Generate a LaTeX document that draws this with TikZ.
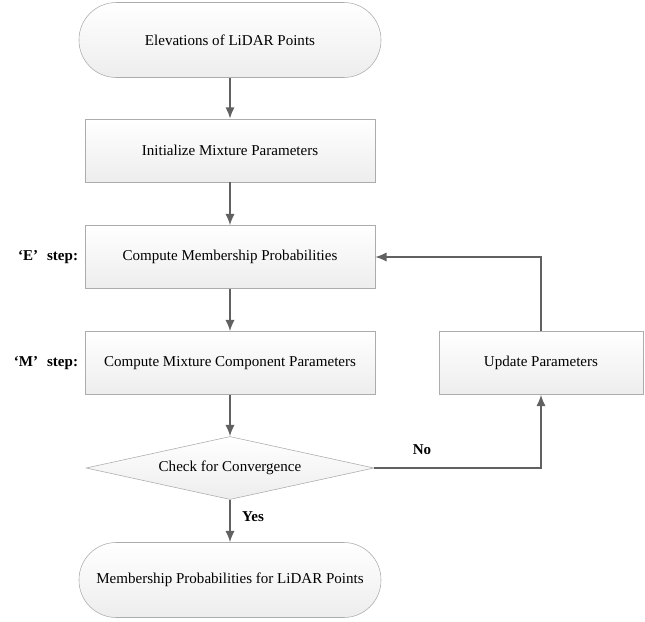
\documentclass[tikz,border=0pt]{standalone}
\usepackage{fontspec}
\setmainfont{Liberation Serif}
\usepackage{tikz}
\usetikzlibrary{arrows.meta,shapes,backgrounds}
\usetikzlibrary{positioning,fit,calc}
\tikzset{>={Latex[length=8pt,width=6.5pt]}}
\tikzset{
	process/.style={draw=gray!65, top color=white, bottom color=gray!14, minimum width=7.25cm, minimum height=1.575cm, align=center, font=\fontsize{10.7}{12}\selectfont},
	terminal/.style={process, rounded corners=0.93cm, minimum width=7.55cm, minimum height=1.875cm},
	decision/.style={process, diamond, shape aspect=4.57, inner sep=0pt, minimum width=7.2cm, minimum height=1.575cm},
	flow/.style={->, draw=black!62, line width=1.1pt},
	steplabel/.style={anchor=east, font=\bfseries\fontsize{10.7}{12}\selectfont},
	answer/.style={font=\bfseries\fontsize{10.7}{12}\selectfont}
}

\begin{document}
\begin{tikzpicture}[]

	\useasboundingbox (0,0) rectangle (16.125,-15.55);

	\node (elevations) [terminal] at (5.75,-1.0) {Elevations of LiDAR Points};

	\node (init) [process] at (5.75,-3.76) {Initialize Mixture Parameters};

	\node (estep) [process] at (5.75,-6.425) {Compute Membership Probabilities};
	\node (estep-label) [steplabel] at (2.075,-6.425) {‘E’\hspace{0.6em}step:};

	\node (mstep) [process] at (5.75,-9.075) {Compute Mixture Component Parameters};
	\node (mstep-label) [steplabel] at (2.075,-9.075) {‘M’\hspace{0.6em}step:};

	\node (update) [process, minimum width=5.1cm] at (13.525,-9.075) {Update Parameters};

	\node (check) [decision] at (5.75,-11.7) {Check for Convergence};

	\node (membership) [terminal] at (5.75,-14.5) {Membership Probabilities for LiDAR Points};

	\node (no) [answer] at (10.55,-11.25) {No};
	\node (yes) [answer] at (6.325,-12.925) {Yes};

	\draw[flow] (elevations) to (init);
	\draw[flow] (init) to (estep);
	\draw[flow] (estep) to (mstep);
	\draw[flow] (mstep) to (check);
	\draw[flow] (check) to (membership);
	\draw[flow] (check.east) -| (update.south);
	\draw[flow] (update.north) |- (estep.east);

\end{tikzpicture}
\end{document}
